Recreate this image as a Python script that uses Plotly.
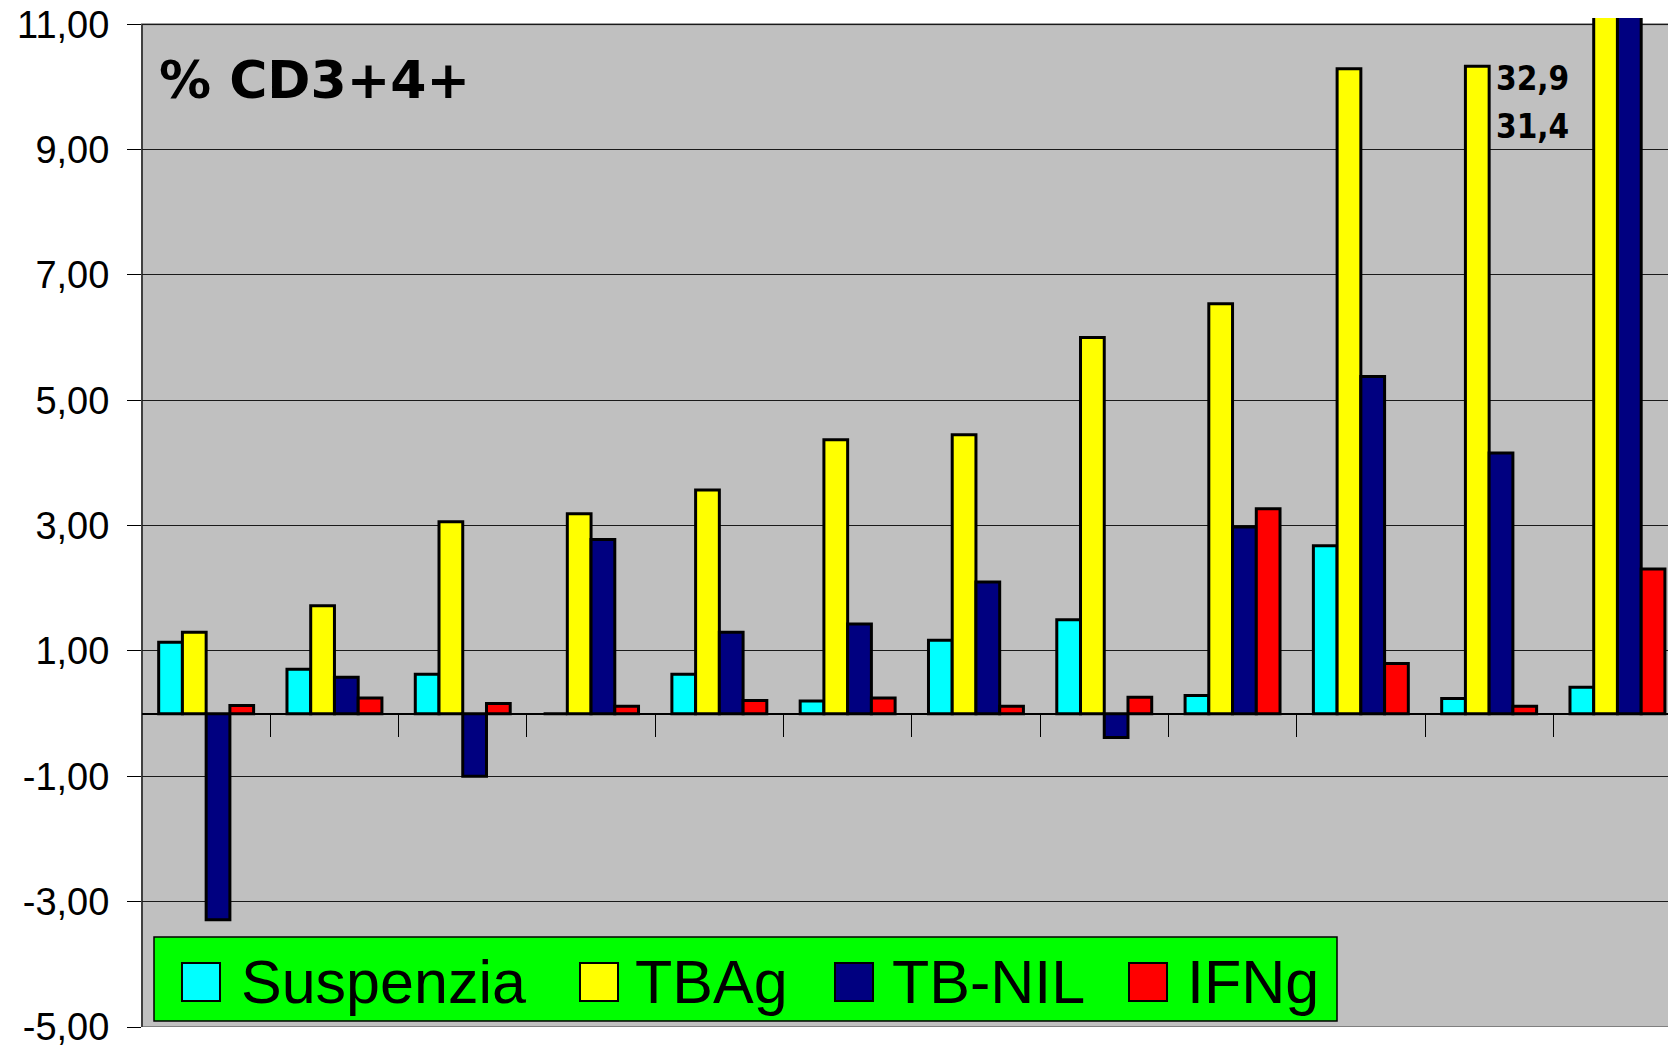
import plotly.graph_objects as go

# ---- data -------------------------------------------------------------
categories = list(range(1, 13))
series_names = ["Suspenzia", "TBAg", "TB-NIL", "IFNg"]
suspenzia = [1.14, 0.71, 0.63, 0.00, 0.63, 0.20, 1.17, 1.50, 0.29, 2.68, 0.24, 0.42]
tbag = [1.30, 1.72, 3.06, 3.19, 3.57, 4.37, 4.45, 6.00, 6.54, 10.29, 10.33, 32.9]
tb_nil = [-3.29, 0.58, -1.00, 2.78, 1.30, 1.43, 2.10, -0.38, 2.98, 5.38, 4.16, 31.4]
ifng = [0.13, 0.25, 0.16, 0.12, 0.21, 0.25, 0.12, 0.26, 3.27, 0.80, 0.12, 2.31]
y_ticks = [-5, -3, -1, 1, 3, 5, 7, 9, 11]
y_tick_labels = [f"{v:.2f}".replace(".", ",") for v in y_ticks]
chart_title = "% CD3+4+"

# ---- styling ----------------------------------------------------------
colors = ["#00FFFF", "#FFFF00", "#000080", "#FF0000"]
W, H = 1668, 1050
ML, MR, MT, MB = 142, 0, 18, 23
Y_MIN, Y_MAX, Y_TOP = -5, 11, 11.1
X_RANGE = [0.5, 12.394]


def paper_x(px):
    return (px - ML) / (W - ML - MR)


def paper_y(py):
    return (H - MB - py) / (H - MT - MB)


fig = go.Figure()
for name, vals, col in zip(series_names, [suspenzia, tbag, tb_nil, ifng], colors):
    fig.add_trace(go.Bar(
        x=categories, y=vals, name=name,
        marker=dict(color=col, line=dict(color="black", width=3)),
        showlegend=False,
    ))

shapes = [
    # grey plot background
    dict(type="rect", xref="paper", yref="y", x0=0, x1=1, y0=Y_MIN, y1=Y_MAX,
         fillcolor="#C0C0C0", line=dict(width=0), layer="below"),
    # plot frame
    dict(type="rect", xref="paper", yref="y", x0=0, x1=1.01, y0=Y_MIN, y1=Y_MAX,
         fillcolor="rgba(0,0,0,0)", line=dict(color="#808080", width=2), layer="between"),
    dict(type="line", xref="paper", yref="y", x0=0, x1=0, y0=Y_MIN, y1=Y_MAX,
         line=dict(color="#404040", width=2), layer="between"),
    # legend box
    dict(type="rect", xref="paper", yref="paper",
         x0=paper_x(154), x1=paper_x(1337), y0=paper_y(1021), y1=paper_y(937),
         fillcolor="#00FF00", line=dict(color="black", width=1.5), layer="above"),
]

annotations = [
    dict(text=f"<b>{chart_title}</b>", xref="paper", yref="paper",
         x=paper_x(157), y=paper_y(80), xanchor="left", yanchor="middle",
         showarrow=False, font=dict(family="DejaVu Sans", size=52, color="black")),
]

# values of the two bars that run off the top of the scale
for val, py in [(tbag[-1], 78), (tb_nil[-1], 126)]:
    annotations.append(dict(
        text="<b>" + f"{val:.1f}".replace(".", ",") + "</b>",
        xref="paper", yref="paper", x=paper_x(1494), y=paper_y(py),
        xanchor="left", yanchor="middle", showarrow=False,
        font=dict(family="DejaVu Sans Condensed, DejaVu Sans", size=33, color="black")))

# legend entries
swatch_x = [182, 580, 835, 1129]
text_x = [239, 633, 890, 1185]
for name, col, sx, tx in zip(series_names, colors, swatch_x, text_x):
    shapes.append(dict(type="rect", xref="paper", yref="paper",
                       x0=paper_x(sx), x1=paper_x(sx + 38),
                       y0=paper_y(1001), y1=paper_y(963),
                       fillcolor=col, line=dict(color="black", width=2), layer="above"))
    annotations.append(dict(text=name, xref="paper", yref="paper",
                            x=paper_x(tx), y=paper_y(982), xanchor="left", yanchor="middle",
                            showarrow=False,
                            font=dict(family="Liberation Sans, Arial", size=61, color="black")))

fig.update_layout(
    width=W, height=H,
    margin=dict(l=ML, r=MR, t=MT, b=MB, pad=0),
    paper_bgcolor="white", plot_bgcolor="white",
    barmode="group", bargap=0.26, bargroupgap=0,
    shapes=shapes, annotations=annotations,
    xaxis=dict(
        range=X_RANGE, anchor="free", position=(0 - Y_MIN) / (Y_TOP - Y_MIN),
        showline=True, linecolor="black", linewidth=2,
        ticks="outside", ticklen=22, tickwidth=1, tickcolor="black",
        tickvals=[c + 0.5 for c in categories[:-1]],
        showticklabels=False, showgrid=False, zeroline=False,
    ),
    yaxis=dict(
        range=[Y_MIN, Y_TOP], tickvals=y_ticks, ticktext=y_tick_labels,
        ticks="outside", ticklen=14, tickwidth=1, tickcolor="black",
        ticklabelstandoff=10,
        showgrid=True, gridcolor="#1a1a1a", gridwidth=1, zeroline=False,
        showline=False,
        tickfont=dict(family="Liberation Sans, Arial", size=38, color="black"),
    ),
)

fig.write_html("out.html")
